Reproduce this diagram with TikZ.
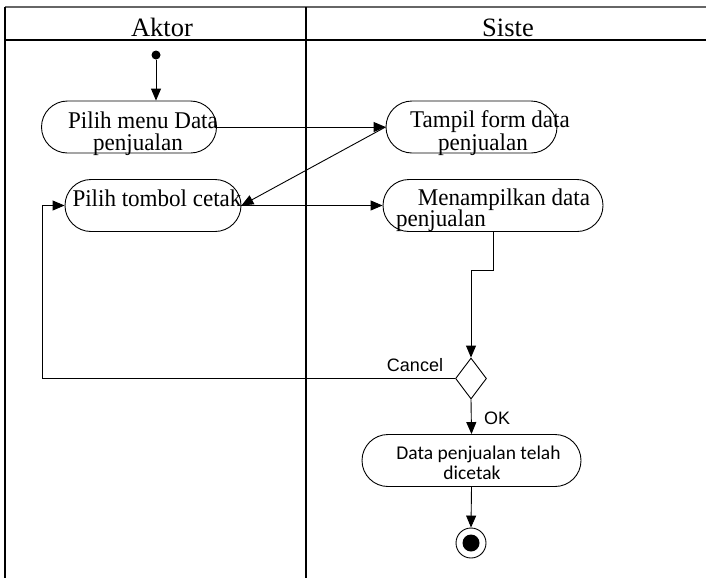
\documentclass[tikz,border=0pt]{standalone}
\usepackage{fontspec}
\setmainfont{Liberation Serif}
\newfontfamily\nodefont[FakeStretch=0.96]{Liberation Serif}
\newfontfamily\lsans{Liberation Sans}
\newfontfamily\carl{Carlito}
\usetikzlibrary{arrows.meta,shapes.geometric}
\begin{document}
\begin{tikzpicture}[x=1pt,y=-1pt,
  lane/.style={line width=1.1pt},
  act/.style={draw,line width=0.9pt,rounded corners=26pt,minimum width=#1,minimum height=52pt,inner sep=0pt},
  arr/.style={line width=0.9pt,-{Triangle[length=12pt,width=10pt]}},
  txt/.style={anchor=base,inner sep=0pt,font=\nodefont\fontsize{24}{24}\selectfont},
  stxt/.style={anchor=base,inner sep=0pt,font=\carl\fontsize{19.5}{19.5}\selectfont},
  ltxt/.style={anchor=base,inner sep=0pt,font=\lsans\fontsize{18}{18}\selectfont},
  htxt/.style={anchor=base,inner sep=0pt,font=\fontsize{26.5}{26.5}\selectfont}]
\useasboundingbox (0,0) rectangle (706,581);
% swimlanes
\draw[lane,gray!80!black,line width=1.6pt] (5,7) -- (706,7);
\draw[lane] (5,40) -- (706,40);
\draw[lane] (5,7) -- (5,578);
\draw[lane] (306,7) -- (306,578);
\node[htxt] (hA) at (162,36) {Aktor};
\node[htxt] (hS) at (508,36) {Siste};
% nodes
\node[circle,fill=black,minimum size=9pt,inner sep=0pt] (s) at (156,55) {};
\node[act=175pt] (n1) at (129,127) {};
\node[act=176pt] (n2) at (153,205.5) {};
\node[act=171pt] (n3) at (471.5,127) {};
\node[act=220pt] (n4) at (493,205.5) {};
\node[draw,line width=0.9pt,shape=diamond,minimum width=31pt,minimum height=41pt,inner sep=0pt] (d) at (471,378.5) {};
\node[act=219pt] (n5) at (471.5,460.5) {};
\node[draw,circle,line width=0.9pt,minimum size=30pt,inner sep=0pt] (e) at (471,543) {};
\node[circle,fill=black,minimum size=17pt,inner sep=0pt] (ei) at (e.center) {};
% texts
\node[txt] (t1a) at (143,128) {Pilih menu Data};
\node[txt] (t1b) at (138,150) {penjualan};
\node[txt] (t2) at (157,206.5) {Pilih tombol cetak};
\node[txt] (t3a) at (490,127) {Tampil form data};
\node[txt] (t3b) at (483,150) {penjualan};
\node[txt] (t4a) at (504,205) {Menampilkan data};
\node[txt] (t4b) at (441,226.5) {penjualan};
\node[stxt] (t5a) at (478.5,459.5) {Data penjualan telah};
\node[stxt] (t5b) at (472,479) {dicetak};
% connectors
\coordinate (lp) at (42,205.5);
\draw[arr] (s) -- (s |- n1.north);
\draw[arr] (n1.east) -- (n3.west);
\draw[arr] (n3.west) -- (n2.east);
\draw[arr] (n2.east) -- (n4.west);
\draw[arr] (n4.south) -- ++(0,38) -| (d.north);
\draw[arr] (d.west) -| (lp) -- (n2.west);
\draw[arr] (d.south) -- (n5.north);
\draw[arr] (n5.south) -- (e.north);
\node[ltxt] (lc) at (415,371) {Cancel};
\node[ltxt] (lok) at (497,424) {OK};
\end{tikzpicture}
\end{document}
